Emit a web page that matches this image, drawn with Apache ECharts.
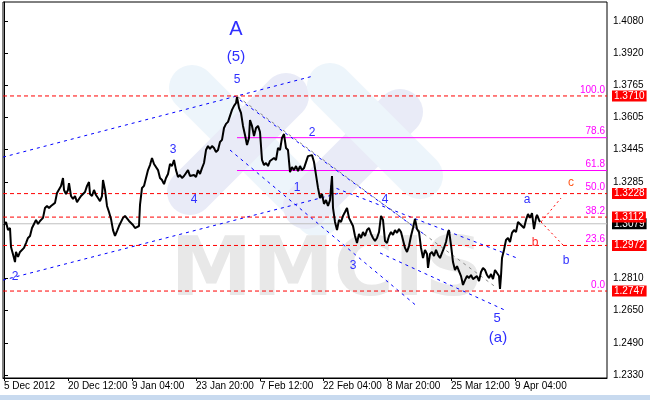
<!DOCTYPE html>
<html><head><meta charset="utf-8">
<script src="https://cdn.jsdelivr.net/npm/echarts@6/dist/echarts.min.js"></script>
<style>html,body{margin:0;padding:0;background:#fff}#c{width:650px;height:400px}</style>
</head><body><div id="c"></div>
<script>
// ---- time axis (bar index) and prices ----
const barIdx = [0,2,4,6,7,9,10,11,12,14,16,18,20,22,24,26,28,30,32,34,36,38,39,41,43,45,47,49,51,53,55,57,59,60,62,64,65,67,69,71,73,75,77,79,81,83,85,86,88,90,92,94,96,98,99,101,103,105,107,109,111,113,115,117,119,121,123,125,127,129,131,133,135,136,138,140,142,144,146,148,150,152,154,156,158,160,162,164,166,168,170,172,174,176,178,180,182,184,186,188,190,192,194,196,198,200,202,204,206,208,210,212,214,216,218,220,222,224,226,228,230,232,233,235,237,239,241,243,245,246,248,250,252,254,256,258,260,262,264,266,268,270,272,274,276,278,280,282,284,286,288,290,292,294,296,298,300,302,304,306,308,310,312,314,316,318,320,322,324,326,328,329,331,333,335,337,339,341,343,345,347,349,351,353,355,357,359,361,363,365,367,369,371,373,375,377,379,381,383,385,387,389,391,393,395,397,399,401,403,405,407,409,411,413,415,417,419,421,423,424,426,428,430,432,434,436,438,440,442,444,445,447,449,451,453,455,457,459,461,463,465,467,469,471,473,475,477,479,481,483,485,487,489,491,493,495,496,497,498,500,502,504,506,508,510,512,514,516,518,520,522,524,526,528,530,532,533,535,536];
const closePrice = [1.3073,1.3088,1.3048,1.3058,1.2964,1.2969,1.2910,1.2890,1.2940,1.2915,1.2940,1.2935,1.2960,1.2984,1.3009,1.3019,1.3058,1.3078,1.3098,1.3078,1.3093,1.3088,1.3108,1.3157,1.3167,1.3157,1.3167,1.3172,1.3182,1.3231,1.3236,1.3266,1.3305,1.3246,1.3226,1.3246,1.3280,1.3216,1.3201,1.3216,1.3186,1.3201,1.3216,1.3226,1.3236,1.3266,1.3285,1.3226,1.3216,1.3246,1.3221,1.3206,1.3191,1.3216,1.3295,1.3246,1.3167,1.3137,1.3103,1.3048,1.3019,1.3043,1.3068,1.3063,1.3108,1.3118,1.3123,1.3093,1.3088,1.3073,1.3058,1.3053,1.3068,1.3172,1.3256,1.3266,1.3270,1.3344,1.3369,1.3404,1.3374,1.3374,1.3344,1.3305,1.3295,1.3275,1.3305,1.3325,1.3374,1.3364,1.3394,1.3344,1.3310,1.3320,1.3305,1.3315,1.3310,1.3344,1.3315,1.3310,1.3320,1.3310,1.3344,1.3325,1.3354,1.3379,1.3443,1.3463,1.3448,1.3463,1.3453,1.3433,1.3443,1.3483,1.3493,1.3552,1.3572,1.3582,1.3591,1.3641,1.3661,1.3675,1.3705,1.3651,1.3626,1.3562,1.3517,1.3468,1.3503,1.3591,1.3562,1.3512,1.3552,1.3562,1.3532,1.3394,1.3369,1.3379,1.3364,1.3389,1.3394,1.3404,1.3394,1.3453,1.3443,1.3503,1.3522,1.3453,1.3443,1.3334,1.3359,1.3344,1.3364,1.3339,1.3364,1.3344,1.3354,1.3349,1.3413,1.3404,1.3418,1.3384,1.3320,1.3256,1.3206,1.3226,1.3177,1.3196,1.3167,1.3196,1.3315,1.3157,1.3088,1.3048,1.3098,1.3088,1.3118,1.3137,1.3157,1.3108,1.3088,1.3068,1.3019,1.2984,1.3029,1.3009,1.3038,1.3019,1.3048,1.3058,1.3029,1.3009,1.2994,1.3009,1.3038,1.3118,1.3098,1.2994,1.2984,1.3019,1.3038,1.3024,1.3048,1.3034,1.3053,1.3038,1.2999,1.2960,1.2940,1.2969,1.3019,1.3058,1.3103,1.3053,1.3038,1.2960,1.2910,1.2950,1.2930,1.2861,1.2930,1.2940,1.2920,1.2950,1.2925,1.2910,1.2935,1.2960,1.2989,1.3038,1.3048,1.2974,1.2890,1.2851,1.2870,1.2861,1.2821,1.2777,1.2801,1.2821,1.2811,1.2826,1.2806,1.2801,1.2821,1.2796,1.2841,1.2861,1.2851,1.2826,1.2811,1.2831,1.2806,1.2851,1.2846,1.2821,1.2757,1.2821,1.2910,1.2950,1.2999,1.3009,1.2989,1.3034,1.3048,1.3038,1.3088,1.3093,1.3068,1.3058,1.3098,1.3127,1.3108,1.3132,1.3053,1.3108,1.3123,1.3098,1.3088];

// ---- axis ticks ----
const xTickIdx = [0,64,128,192,256,319,383,447,511];
const xTickLabels = ['5 Dec 2012','20 Dec 12:00','9 Jan 04:00','23 Jan 20:00','7 Feb 12:00','22 Feb 04:00','8 Mar 20:00','25 Mar 12:00','9 Apr 04:00'];
const yTickValues = [1.2330,1.2490,1.2650,1.2810,1.3285,1.3445,1.3605,1.3765,1.3920,1.4080];
const X_MIN = -1, X_MAX = 603;

// ---- horizontal levels ----
const redLevels = [1.3710,1.3228,1.3112,1.2972,1.2747];
const currentPrice = 1.3079;
const fibLevels = [1.3710,1.3504,1.3342,1.3228,1.3112,1.2972,1.2747];
const fibNames = ['100.0','78.6','61.8','50.0','38.2','23.6','0.0'];
const fibSolidLevels = [1.3504,1.3342];
const fibStartIdx = 233;

// ---- trend lines [idx1, price1, idx2, price2] ----
const blueLines = [
  [-1,1.3408,309,1.3808],
  [-1,1.2801,336,1.3231],
  [236,1.3690,421,1.3024],
  [326,1.3266,513,1.2910],
  [226,1.3443,413,1.2672],
  [376,1.2935,503,1.2648]
];
const grayLines = [[234,1.3705,493,1.2762]];
const redProjLines = [[537,1.3088,557,1.3206],[537,1.3088,559,1.2974]];

// ---- wave labels ----
const waveText  = ['A','(5)','5','3','4','2','2','1','3','4','5','(a)','a','b','c','b'];
const waveIdx   = [232,232,233,169,190,11,308,293,349,381,493,494,523,531,567,562];
const wavePrice = [1.4040,1.3902,1.3789,1.3443,1.3196,1.2816,1.3527,1.3256,1.2870,1.3196,1.2613,1.2514,1.3196,1.2984,1.3280,1.2895];
const waveSize  = [20,15,12,12,12,12,12,12,12,12,13,15,12,12,12,12];
const waveColor = ['#2f2fff','#2f2fff','#2f2fff','#2f2fff','#2f2fff','#2f2fff','#2f2fff','#2f2fff','#2f2fff','#2f2fff','#2f2fff','#2f2fff','#2f2fff','#ff2a2a','#ff5a1e','#2f2fff'];

const FONT = 'Liberation Sans, Arial, sans-serif';
const chart = echarts.init(document.getElementById('c'), null, {renderer:'canvas'});

const blueStyle = {color:'#0000ff', type:[3,4], width:1};
const grayStyle = {color:'#8a8a8a', type:[3,4], width:1};
const redProjStyle = {color:'#ff0000', type:[2,3], width:1};

function lineSeries(pts, style, z, extra){
  return Object.assign({type:'line',data:pts,showSymbol:false,symbol:'none',silent:true,animation:false,
    lineStyle:style,itemStyle:{color:style.color},z:z,emphasis:{disabled:true}}, extra||{});
}
function boxEnd(text,bg){
  return {endLabel:{show:true,formatter:()=>text,distance:5,backgroundColor:bg,color:'#fff',
    padding:[1,2,0,2],fontFamily:FONT,fontSize:10}};
}

const series = [];
series.push(lineSeries([[X_MIN,currentPrice],[X_MAX,currentPrice]],{color:'#c0c0c0',width:1,type:'solid'},2,boxEnd(currentPrice.toFixed(4),'#000')));
fibSolidLevels.forEach(v=>series.push(lineSeries([[fibStartIdx,v],[X_MAX,v]],{color:'#ff00ff',width:1,type:'solid'},3)));
blueLines.forEach(l=>series.push(lineSeries([[l[0],l[1]],[l[2],l[3]]],blueStyle,3)));
grayLines.forEach(l=>series.push(lineSeries([[l[0],l[1]],[l[2],l[3]]],grayStyle,3)));
redProjLines.forEach(l=>series.push(lineSeries([[l[0],l[1]],[l[2],l[3]]],redProjStyle,3)));
redLevels.forEach(v=>series.push(lineSeries([[X_MIN,v],[X_MAX,v]],{color:'#ff0000',width:1,type:[4,3]},4,boxEnd(v.toFixed(4),'#ff0000'))));
series.push(lineSeries(barIdx.map((b,i)=>[b,closePrice[i]]),{color:'#000',width:2,type:'solid'},5));
series.push({type:'scatter',symbolSize:0,silent:true,z:6,itemStyle:{opacity:1},
  data:fibLevels.map((v,i)=>({value:[X_MAX-1,v],name:fibNames[i]})),
  label:{show:true,position:'left',distance:1,offset:[0,-6],formatter:p=>p.name,color:'#ff00ff',fontFamily:FONT,fontSize:10}});
series.push({type:'scatter',symbolSize:0,z:7,silent:true,itemStyle:{opacity:1},
  data:waveText.map((t,i)=>({value:[waveIdx[i],wavePrice[i]],name:t,
    label:{show:true,position:'inside',formatter:t,fontSize:waveSize[i],color:waveColor[i],fontFamily:FONT}}))});

const option = {
  animation:false,
  backgroundColor:'#ffffff',
  grid:{left:3,right:43,top:2,bottom:22,show:true,borderColor:'#000',borderWidth:1,backgroundColor:'transparent'},
  xAxis:{type:'value',min:X_MIN,max:X_MAX,
    axisLine:{show:true,lineStyle:{color:'#000'}},
    axisTick:{show:true,customValues:xTickIdx,length:3,lineStyle:{color:'#000'}},
    axisLabel:{customValues:xTickIdx,formatter:v=>xTickLabels[xTickIdx.indexOf(v)]||'',align:'left',margin:3,
      fontFamily:FONT,fontSize:10,color:'#000'},
    splitLine:{show:false}},
  yAxis:{type:'value',position:'right',min:1.23177,max:1.41738,
    axisLine:{show:true,lineStyle:{color:'#000'}},
    axisTick:{show:true,customValues:yTickValues,length:4,lineStyle:{color:'#000'}},
    axisLabel:{customValues:yTickValues,formatter:v=>v.toFixed(4),margin:6,fontFamily:FONT,fontSize:10,color:'#000'},
    splitLine:{show:false}},
  graphic:{elements:[
    {type:'line',z:-10,shape:{x1:192,y1:88,x2:318,y2:214},style:{stroke:'#edf5fb',lineWidth:46,lineCap:'round'}},
    {type:'line',z:-10,shape:{x1:190,y1:192,x2:286,y2:96},style:{stroke:'#e9ebf7',lineWidth:46,lineCap:'round'}},
    {type:'line',z:-10,shape:{x1:306,y1:206,x2:400,y2:112},style:{stroke:'#e9ebf7',lineWidth:46,lineCap:'round'}},
    {type:'line',z:-10,shape:{x1:330,y1:86,x2:420,y2:176},style:{stroke:'#edf5fb',lineWidth:46,lineCap:'round'}},
    {type:'text',z:-10,x:327,y:274,style:{text:'MMCIS',fill:'#e8e8e8',font:'bold 82px "DejaVu Sans", sans-serif',textAlign:'center',textVerticalAlign:'middle'}},
    {type:'rect',z:-10,shape:{x:0,y:395,width:650,height:5},style:{fill:'#c8daef'}}
  ]},
  series: series
};
chart.setOption(option);
</script></body></html>
